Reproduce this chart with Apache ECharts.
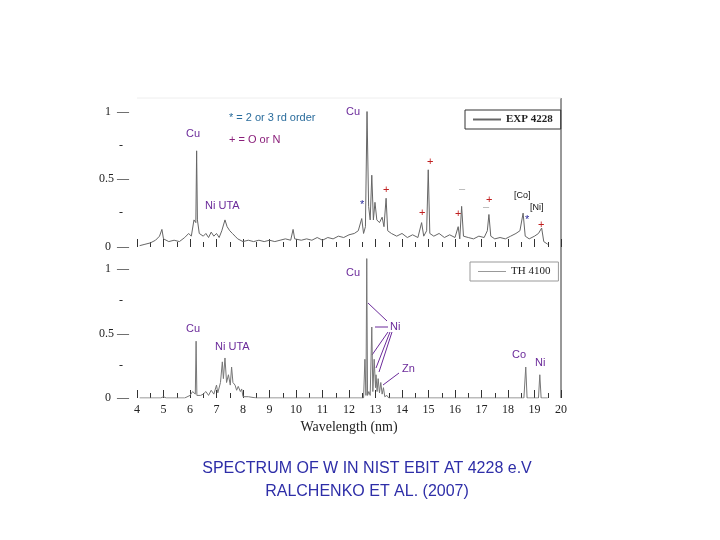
<!DOCTYPE html>
<html><head><meta charset="utf-8">
<script src="https://cdn.jsdelivr.net/npm/echarts@6/dist/echarts.min.js"></script>
<style>html,body{margin:0;background:#fff}#c{width:720px;height:540px}</style>
</head><body><div id="c"></div>
<script>
// EXP 4228 measured spectrum (wavelength nm, relative intensity)
const expX = [4.1,4.3,4.5,4.7,4.85,4.94,5.0,5.2,5.4,5.6,5.8,5.95,6.05,6.15,6.22,6.25,6.28,6.35,6.5,6.6,6.7,6.8,6.9,7.0,7.1,7.2,7.32,7.4,7.5,7.6,7.7,7.8,8.0,8.2,8.4,8.6,8.8,9.0,9.2,9.4,9.6,9.8,9.89,9.95,10.2,10.4,10.6,10.8,11.0,11.2,11.4,11.6,11.8,12.0,12.2,12.35,12.48,12.55,12.62,12.68,12.74,12.8,12.86,12.92,12.98,13.05,13.15,13.25,13.32,13.4,13.46,13.6,13.8,14.0,14.2,14.4,14.6,14.74,14.82,14.93,14.99,15.05,15.2,15.4,15.6,15.8,16.0,16.12,16.18,16.25,16.32,16.5,16.7,16.9,17.1,17.22,17.28,17.35,17.5,17.7,17.9,18.1,18.3,18.45,18.57,18.65,18.8,19.0,19.15,19.27,19.35,19.5];
const expY = [.01,.02,.03,.05,.08,.13,.06,.04,.05,.04,.07,.1,.08,.2,.18,.71,.2,.1,.08,.1,.07,.11,.08,.1,.07,.12,.2,.15,.12,.1,.08,.06,.04,.05,.04,.05,.04,.05,.04,.05,.06,.05,.13,.06,.05,.06,.05,.07,.05,.07,.06,.08,.07,.09,.1,.12,.21,.1,.15,1.0,.3,.2,.53,.2,.33,.2,.18,.22,.15,.36,.12,.1,.08,.1,.07,.09,.07,.18,.08,.12,.57,.1,.08,.1,.07,.09,.07,.15,.06,.3,.08,.07,.06,.08,.07,.12,.24,.08,.06,.07,.06,.08,.1,.12,.25,.08,.06,.08,.1,.14,.04,.02];
// TH 4100 theory spectrum
const thX = [4.1,4.9,5.0,5.1,5.8,6.0,6.1,6.2,6.23,6.26,6.4,6.5,6.6,6.7,6.8,6.9,7.0,7.05,7.15,7.22,7.26,7.32,7.38,7.45,7.52,7.57,7.62,7.7,7.76,7.82,7.9,7.95,8.0,8.2,8.5,9.5,12.55,12.6,12.64,12.67,12.7,12.75,12.8,12.86,12.9,12.95,13.0,13.02,13.06,13.1,13.15,13.2,13.25,13.3,13.35,13.43,13.5,18.6,18.67,18.72,19.15,19.2,19.25,19.5];
const thY = [0,0,.01,0,0,.02,.05,.03,.44,.02,.02,.03,.05,.02,.06,.03,.1,.04,.12,.28,.15,.31,.12,.18,.1,.24,.12,.1,.06,.09,.05,.07,.01,.01,0,0,0,.3,.02,1.08,.02,.05,.02,.55,.05,.3,.08,.18,.05,.15,.04,.12,.03,.08,.01,.02,0,0,.24,0,0,.18,0,0];
const xTicks = [4,5,6,7,8,9,10,11,12,13,14,15,16,17,18,19,20];

const serif = 'Liberation Serif';
const sans = 'Liberation Sans';
const purple = '#6b2a9a';

function xAxis(gi, labels) {
  return {
    type: 'value', gridIndex: gi, min: 4, max: 20, interval: 1,
    axisLine: { show: false },
    axisTick: { show: true, inside: true, length: 8, lineStyle: { color: '#333' } },
    minorTick: { show: true, splitNumber: 2, length: 5, lineStyle: { color: '#333' } },
    splitLine: { show: false },
    axisLabel: { show: labels, fontFamily: serif, fontSize: 12, color: '#222', margin: 6,
      formatter: v => xTicks.includes(v) ? String(v) : '' },
    name: labels ? 'Wavelength (nm)' : '', nameLocation: 'middle', nameGap: 22,
    nameTextStyle: { fontFamily: serif, fontSize: 14, color: '#222' }
  };
}
function yAxis(gi) {
  return {
    type: 'value', gridIndex: gi, min: 0, max: 1.1, interval: 0.25,
    axisLine: { show: false },
    axisTick: { show: false },
    splitLine: { show: false },
    axisLabel: { fontFamily: serif, fontSize: 12, color: '#222', margin: 8,
      formatter: v => v === 0 ? '0  \u2014' : v === 0.5 ? '0.5 \u2014' : v === 1 ? '1  \u2014' : (v < 1.1 ? '-  ' : '') }
  };
}
function pairs(xs, ys) { return xs.map((x, i) => [x, ys[i]]); }

const chart = echarts.init(document.getElementById('c'));
const txt = (x, y, t, fill, size, font) => ({ type: 'text', left: x, top: y,
  style: { text: t, fill: fill, fontSize: size || 11, fontFamily: font || sans } });
const ln = (x1, y1, x2, y2) => ({ type: 'line', shape: { x1, y1, x2, y2 }, style: { stroke: purple, lineWidth: 1 } });

chart.setOption({
  animation: false,
  grid: [
    { left: 137, right: 159, top: 98, height: 149 },
    { left: 137, right: 159, top: 256, height: 142 }
  ],
  xAxis: [xAxis(0, false), xAxis(1, true)],
  yAxis: [yAxis(0), yAxis(1)],
  legend: [
    { data: ['EXP 4228'], left: 465, top: 110, width: 82, padding: [4, 8], itemWidth: 28, itemHeight: 2,
      borderColor: '#333', borderWidth: 1, icon: 'rect',
      textStyle: { fontFamily: serif, fontWeight: 'bold', fontSize: 11, color: '#222' } },
    { data: ['TH 4100'], left: 470, top: 262, padding: [4, 8], itemWidth: 28, itemHeight: 1,
      borderColor: '#999', borderWidth: 1, icon: 'rect',
      textStyle: { fontFamily: serif, fontSize: 11, color: '#222' } }
  ],
  series: [
    { name: 'EXP 4228', type: 'line', xAxisIndex: 0, yAxisIndex: 0, data: pairs(expX, expY),
      showSymbol: false, lineStyle: { color: '#666', width: 1 }, itemStyle: { color: '#666' } },
    { name: 'TH 4100', type: 'line', xAxisIndex: 1, yAxisIndex: 1, data: pairs(thX, thY),
      showSymbol: false, lineStyle: { color: '#777', width: 1 }, itemStyle: { color: '#999' } }
  ],
  graphic: [
    { type: 'line', shape: { x1: 561, y1: 98, x2: 561, y2: 398 }, style: { stroke: '#333', lineWidth: 1 } },
    { type: 'line', shape: { x1: 137, y1: 98, x2: 561, y2: 98 }, style: { stroke: '#eee', lineWidth: 1 } },
    txt(229, 112, '* = 2 or 3 rd order', '#2a6c9c'),
    txt(186, 128, 'Cu', purple),
    txt(229, 134, '+ = O or N', '#8a1f7a'),
    txt(346, 106, 'Cu', purple),
    txt(205, 200, 'Ni UTA', purple),
    txt(427, 156, '+', '#c02020'), txt(383, 184, '+', '#c02020'), txt(419, 207, '+', '#c02020'),
    txt(455, 208, '+', '#c02020'), txt(486, 194, '+', '#c02020'), txt(538, 219, '+', '#c02020'),
    txt(360, 199, '*', '#2a2a9a'), txt(525, 214, '*', '#2a2a9a'),
    txt(459, 183, '\u2013', '#aaa'), txt(483, 201, '\u2013', '#aaa'),
    txt(514, 191, '[Co]', '#111', 9), txt(530, 203, '[Ni]', '#111', 9),
    txt(346, 267, 'Cu', purple),
    txt(186, 323, 'Cu', purple),
    txt(215, 341, 'Ni UTA', purple),
    txt(390, 321, 'Ni', purple),
    ln(368, 303, 387, 321), ln(375, 327, 388, 327),
    ln(388, 332, 372, 355), ln(390, 332, 376, 368), ln(392, 332, 379, 372),
    txt(402, 363, 'Zn', purple), ln(383, 385, 399, 373),
    txt(512, 349, 'Co', purple), txt(535, 357, 'Ni', purple),
    { type: 'text', x: 367, y: 457, style: { text: 'SPECTRUM OF W IN NIST EBIT AT 4228 e.V\nRALCHENKO ET AL. (2007)',
      fill: '#2e2ea8', fontSize: 16, fontFamily: sans, align: 'center', lineHeight: 23 } }
  ]
});
</script></body></html>
